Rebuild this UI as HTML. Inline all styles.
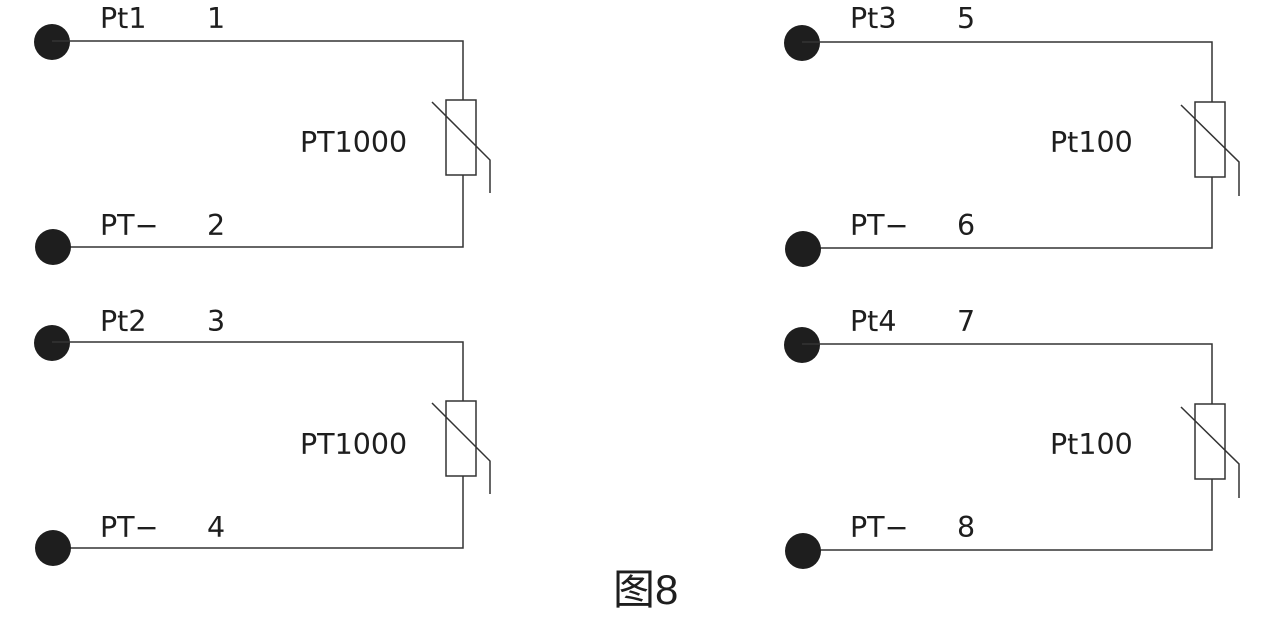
<!DOCTYPE html>
<html><head><meta charset="utf-8"><style>
html,body{margin:0;padding:0;background:#fff;}
svg{display:block;}
text{font-family:"DejaVu Sans","Liberation Sans","Noto Sans CJK SC",sans-serif;font-size:28.5px;fill:#1e1e1e;}
</style></head><body>
<svg width="1281" height="620" viewBox="0 0 1281 620" xmlns="http://www.w3.org/2000/svg">
<defs>
<g id="l">
<circle cx="52" cy="42" r="18" fill="#1e1e1e"/>
<polyline points="52,41 463,41 463,100" fill="none" stroke="#333" stroke-width="1.5"/>
<polyline points="52,247 463,247 463,175" fill="none" stroke="#333" stroke-width="1.5"/>
<circle cx="53" cy="247" r="18" fill="#1e1e1e"/>
<rect x="446" y="100" width="30" height="75" fill="none" stroke="#333" stroke-width="1.5"/>
<polyline points="432,102 490,160 490,193" fill="none" stroke="#333" stroke-width="1.5"/>
</g>
<g id="r">
<circle cx="802" cy="43" r="18" fill="#1e1e1e"/>
<polyline points="802,42 1212,42 1212,102" fill="none" stroke="#333" stroke-width="1.5"/>
<polyline points="802,248 1212,248 1212,177" fill="none" stroke="#333" stroke-width="1.5"/>
<circle cx="803" cy="249" r="18" fill="#1e1e1e"/>
<rect x="1195" y="102" width="30" height="75" fill="none" stroke="#333" stroke-width="1.5"/>
<polyline points="1181,105 1239,162 1239,196" fill="none" stroke="#333" stroke-width="1.5"/>
</g>
</defs>
<use href="#l"/>
<use href="#l" y="301"/>
<use href="#r"/>
<use href="#r" y="302"/>
<text x="100" y="28">Pt1</text><text x="207" y="28">1</text>
<text x="100" y="235">PT−</text><text x="207" y="235">2</text>
<text x="300" y="152">PT1000</text>
<text x="100" y="331">Pt2</text><text x="207" y="331">3</text>
<text x="100" y="537">PT−</text><text x="207" y="537">4</text>
<text x="300" y="454">PT1000</text>
<text x="850" y="28">Pt3</text><text x="957" y="28">5</text>
<text x="850" y="235">PT−</text><text x="957" y="235">6</text>
<text x="1050" y="152">Pt100</text>
<text x="850" y="331">Pt4</text><text x="957" y="331">7</text>
<text x="850" y="537">PT−</text><text x="957" y="537">8</text>
<text x="1050" y="454">Pt100</text>
<text x="613" y="604" style="font-size:42px;font-family:'Liberation Sans','Noto Sans CJK SC',sans-serif">图8</text>
</svg>
</body></html>
